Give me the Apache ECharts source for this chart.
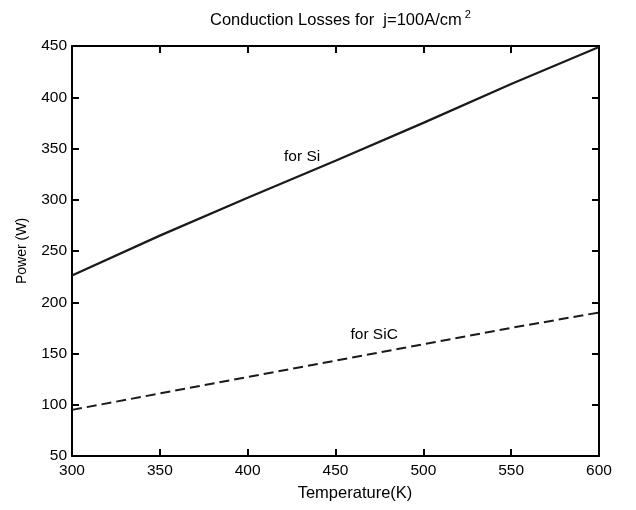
<!DOCTYPE html>
<html>
<head>
<meta charset="utf-8">
<script src="https://cdn.jsdelivr.net/npm/echarts@6/dist/echarts.min.js"></script>
<style>
  html, body { margin: 0; padding: 0; background: #ffffff; }
  #chart { width: 636px; height: 510px; }
</style>
</head>
<body>
<div id="chart"></div>
<script>
// values
var temps = [300, 350, 400, 450, 500, 550, 600];
var powerSi = [226, 265, 302, 338, 375, 413, 449];
var powerSiC = [95, 111, 127, 143, 159, 175, 190];
var xTicks = [300, 350, 400, 450, 500, 550, 600];
var yTicks = [50, 100, 150, 200, 250, 300, 350, 400, 450];
var labelSi = [431, 342];
var labelSiC = [472, 168];

var chart = echarts.init(document.getElementById('chart'));
var font = 'Liberation Sans, Arial, sans-serif';

function pairs(xs, ys) {
  var out = [];
  for (var i = 0; i < xs.length; i++) {
    out.push([xs[i], ys[i]]);
  }
  return out;
}

// shared axis look: thick black frame, ticks pointing inside
var lineStyle = { color: '#000', width: 2 };
function xAxisOf(pos, showLabels) {
  return {
    type: 'value',
    position: pos,
    min: xTicks[0],
    max: xTicks[xTicks.length - 1],
    interval: 50,
    name: showLabels ? 'Temperature(K)' : '',
    nameLocation: 'middle',
    nameGap: 29,
    nameTextStyle: { color: '#000', fontSize: 16.5, fontFamily: font, padding: [0, 0, 0, 39] },
    axisLine: { show: true, onZero: false, lineStyle: lineStyle },
    axisTick: { show: true, inside: true, length: 7, lineStyle: lineStyle },
    axisLabel: { show: showLabels, color: '#000', fontSize: 15.5, fontFamily: font, margin: 7 },
    splitLine: { show: false }
  };
}
function yAxisOf(pos, showLabels) {
  return {
    type: 'value',
    position: pos,
    min: yTicks[0],
    max: yTicks[yTicks.length - 1],
    interval: 50,
    name: showLabels ? 'Power (W)' : '',
    nameLocation: 'middle',
    nameGap: 43,
    nameTextStyle: { color: '#000', fontSize: 14, fontFamily: font },
    axisLine: { show: true, onZero: false, lineStyle: lineStyle },
    axisTick: { show: true, inside: true, length: 7, lineStyle: lineStyle },
    axisLabel: { show: showLabels, color: '#000', fontSize: 15.5, fontFamily: font, margin: 5 },
    splitLine: { show: false }
  };
}

var option = {
  backgroundColor: '#ffffff',
  animation: false,
  title: {
    text: 'Conduction Losses for  j=100A/cm{sup|2}',
    left: 205,
    top: 4,
    textStyle: {
      color: '#000',
      fontSize: 16.5,
      fontWeight: 'normal',
      fontFamily: font,
      rich: {
        sup: { fontSize: 11, verticalAlign: 'bottom', padding: [0, 0, 11, 3], fontFamily: font, color: '#000' }
      }
    }
  },
  grid: { left: 72, right: 37, top: 46, bottom: 54 },
  xAxis: [xAxisOf('bottom', true), xAxisOf('top', false)],
  yAxis: [yAxisOf('left', true), yAxisOf('right', false)],
  series: [
    {
      name: 'for Si',
      type: 'line',
      data: pairs(temps, powerSi),
      showSymbol: false,
      lineStyle: { color: '#1a1a1a', width: 2.2 },
      markPoint: {
        symbol: 'circle',
        symbolSize: 0,
        label: { show: true, formatter: 'for Si', color: '#000', fontSize: 15.5, fontFamily: font },
        data: [{ coord: labelSi }]
      }
    },
    {
      name: 'for SiC',
      type: 'line',
      data: pairs(temps, powerSiC),
      showSymbol: false,
      lineStyle: { color: '#1a1a1a', width: 2, type: [10, 5] },
      markPoint: {
        symbol: 'circle',
        symbolSize: 0,
        label: { show: true, formatter: 'for SiC', color: '#000', fontSize: 15.5, fontFamily: font },
        data: [{ coord: labelSiC }]
      }
    }
  ]
};

chart.setOption(option);
window.addEventListener('resize', function () {
  chart.resize();
});
</script>
</body>
</html>
